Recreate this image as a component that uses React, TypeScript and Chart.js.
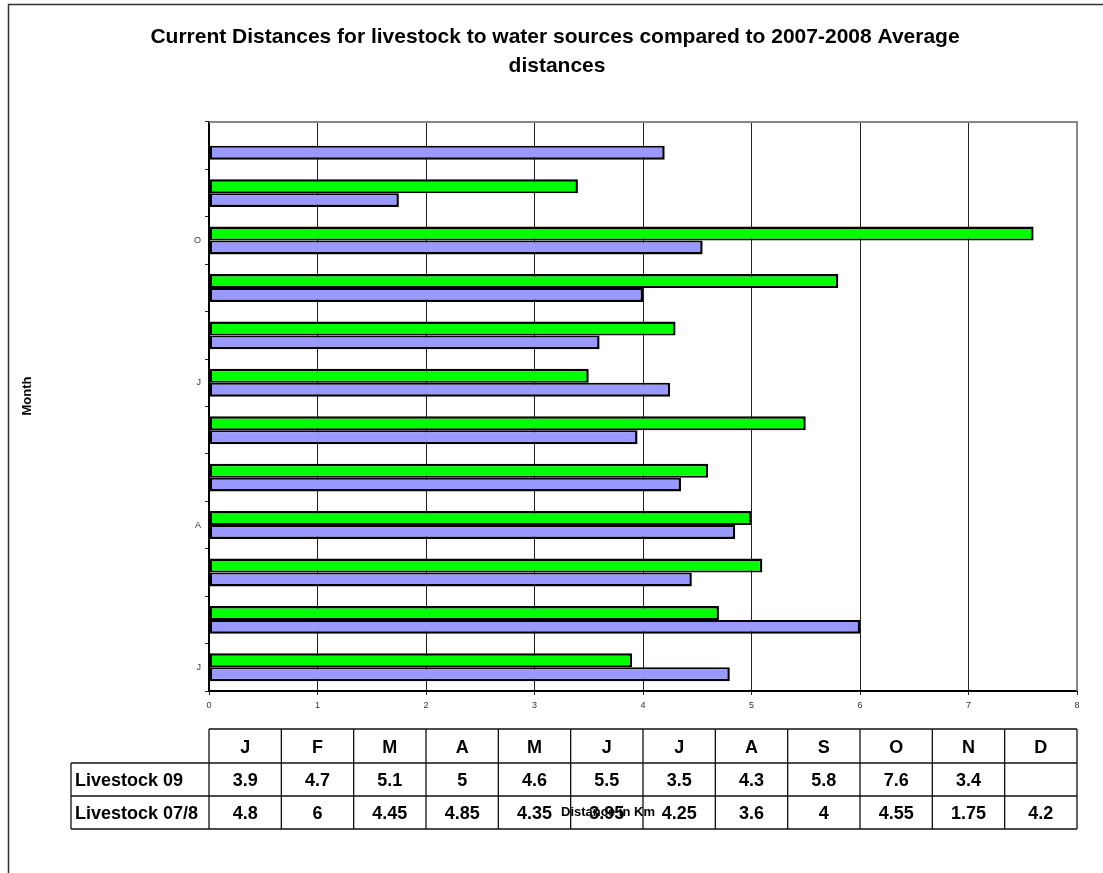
import React, { useEffect, useRef } from 'react';
import { Chart, registerables } from 'chart.js';

Chart.register(...registerables);

// Months, bottom to top on the category axis
const months = ['J', 'F', 'M', 'A', 'M', 'J', 'J', 'A', 'S', 'O', 'N', 'D'];
// Average distance (km) to water sources for livestock
const livestock09: (number | null)[] = [3.9, 4.7, 5.1, 5, 4.6, 5.5, 3.5, 4.3, 5.8, 7.6, 3.4, null];
const livestock078: (number | null)[] = [4.8, 6, 4.45, 4.85, 4.35, 3.95, 4.25, 3.6, 4, 4.55, 1.75, 4.2];
const seriesNames = ['Livestock 09', 'Livestock 07/8'];
const xTicks = [0, 1, 2, 3, 4, 5, 6, 7, 8];
const titleLines = [
  'Current Distances for livestock to water sources compared to 2007-2008 Average',
  'distances',
];
const xTitle = 'Distance in Km';
const yTitle = 'Month';

const FONT = '"Liberation Sans", Arial, Helvetica, sans-serif';

// Draws the frame, title, axis titles and the data table under the plot
const decorations = {
  id: 'decorations',
  afterDraw(chart: Chart) {
    const ctx = chart.ctx;
    const area = chart.chartArea;
    ctx.save();

    // outer frame (left and top edges)
    ctx.strokeStyle = '#333';
    ctx.lineWidth = 1.5;
    ctx.beginPath();
    ctx.moveTo(8.5, 873);
    ctx.lineTo(8.5, 4.5);
    ctx.lineTo(1103, 4.5);
    ctx.stroke();

    // plot area top and right edges
    ctx.strokeStyle = '#888';
    ctx.lineWidth = 2;
    ctx.beginPath();
    ctx.moveTo(area.left, area.top);
    ctx.lineTo(area.right, area.top);
    ctx.lineTo(area.right, area.bottom);
    ctx.stroke();

    // title
    ctx.fillStyle = '#000';
    ctx.font = `bold 21px ${FONT}`;
    ctx.textAlign = 'center';
    ctx.textBaseline = 'middle';
    ctx.fillText(titleLines[0], 555, 37);
    ctx.fillText(titleLines[1], 557, 66);

    // y axis title
    ctx.save();
    ctx.translate(27, 396);
    ctx.rotate(-Math.PI / 2);
    ctx.font = `bold 13px ${FONT}`;
    ctx.fillText(yTitle, 0, 0);
    ctx.restore();

    // data table
    const n = months.length;
    const w = (area.right - area.left) / n;
    const labelLeft = 71;
    const rows = [729, 763, 796, 829];
    ctx.strokeStyle = '#111';
    ctx.lineWidth = 1.3;
    ctx.beginPath();
    ctx.moveTo(area.left, rows[0]);
    ctx.lineTo(area.right, rows[0]);
    for (let r = 1; r < rows.length; r++) {
      ctx.moveTo(labelLeft, rows[r]);
      ctx.lineTo(area.right, rows[r]);
    }
    ctx.moveTo(labelLeft, rows[1]);
    ctx.lineTo(labelLeft, rows[3]);
    for (let i = 0; i <= n; i++) {
      const x = area.left + i * w;
      ctx.moveTo(x, rows[0]);
      ctx.lineTo(x, rows[3]);
    }
    ctx.stroke();

    ctx.font = `bold 18px ${FONT}`;
    ctx.textBaseline = 'alphabetic';
    const base = (top: number, bottom: number) => (top + bottom) / 2 + 6.5;
    ctx.textAlign = 'center';
    months.forEach((m, i) => {
      ctx.fillText(m, area.left + (i + 0.5) * w, base(rows[0], rows[1]));
    });
    const series = [livestock09, livestock078];
    series.forEach((vals, r) => {
      ctx.textAlign = 'left';
      ctx.fillText(seriesNames[r], 75, base(rows[r + 1], rows[r + 2]));
      ctx.textAlign = 'center';
      vals.forEach((v, i) => {
        if (v === null) return;
        ctx.fillText(String(v), area.left + (i + 0.5) * w, base(rows[r + 1], rows[r + 2]));
      });
    });

    // x axis title
    ctx.font = `bold 13px ${FONT}`;
    ctx.textAlign = 'center';
    ctx.textBaseline = 'middle';
    ctx.fillText(xTitle, 608, 812);

    ctx.restore();
  },
};

export default function App() {
  const canvasRef = useRef<HTMLCanvasElement | null>(null);

  useEffect(() => {
    document.body.style.margin = '0';
    const canvas = canvasRef.current;
    if (!canvas) return;
    const chart = new Chart(canvas, {
      type: 'bar',
      data: {
        labels: months,
        datasets: [
          {
            label: seriesNames[0],
            data: livestock09,
            backgroundColor: '#00FF00',
            borderColor: '#000',
            borderWidth: { top: 2.5, left: 2.5, right: 2.5, bottom: 2 },
            borderSkipped: false,
          },
          {
            label: seriesNames[1],
            data: livestock078,
            backgroundColor: '#9999FF',
            borderColor: '#000',
            borderWidth: { top: 2, left: 2.5, right: 2.5, bottom: 2.5 },
            borderSkipped: false,
          },
        ],
      },
      options: {
        indexAxis: 'y',
        responsive: false,
        animation: false,
        events: [],
        datasets: {
          bar: { categoryPercentage: 0.59, barPercentage: 1 },
        },
        layout: { padding: { left: 0, top: 122, right: 26, bottom: 152 } },
        plugins: {
          legend: { display: false },
          title: { display: false },
          tooltip: { enabled: false },
        },
        scales: {
          x: {
            type: 'linear',
            min: xTicks[0],
            max: xTicks[xTicks.length - 1],
            afterFit: (scale: any) => {
              scale.height = 30;
            },
            afterBuildTicks: (scale: any) => {
              scale.ticks = xTicks.map((v) => ({ value: v }));
            },
            ticks: {
              color: '#333',
              font: { family: FONT, size: 9 },
              padding: 5,
            },
            grid: {
              color: (c: any) => (c.index === xTicks.length - 1 ? '#888' : '#222'),
              lineWidth: 1,
              tickLength: 4,
              tickColor: '#222',
            },
            border: { color: '#000', width: 2 },
          },
          y: {
            type: 'category',
            reverse: true,
            afterFit: (scale: any) => {
              scale.width = 209;
            },
            ticks: {
              autoSkip: false,
              color: '#333',
              font: { family: FONT, size: 9 },
              padding: 4,
              callback: (_v: any, i: number) => (i % 3 === 0 ? months[i] : ''),
            },
            grid: {
              drawOnChartArea: false,
              offset: true,
              tickLength: 4,
              tickColor: '#222',
            },
            border: { color: '#000', width: 2 },
          },
        },
      },
      plugins: [decorations],
    });
    return () => chart.destroy();
  }, []);

  return (
    <div style={{ width: 1103, height: 873, background: '#fff' }}>
      <canvas ref={canvasRef} width={1103} height={873} style={{ display: 'block' }} />
    </div>
  );
}
